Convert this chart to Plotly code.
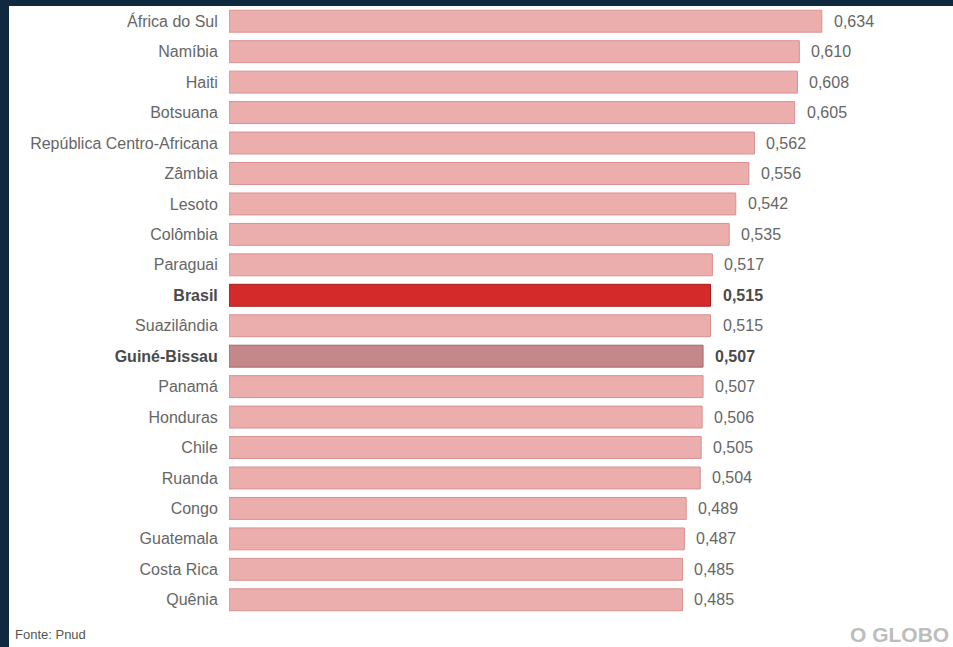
import plotly.graph_objects as go

countries = ["África do Sul", "Namíbia", "Haiti", "Botsuana", "República Centro-Africana",
             "Zâmbia", "Lesoto", "Colômbia", "Paraguai", "Brasil", "Suazilândia",
             "Guiné-Bissau", "Panamá", "Honduras", "Chile", "Ruanda", "Congo",
             "Guatemala", "Costa Rica", "Quênia"]
values = [0.634, 0.610, 0.608, 0.605, 0.562, 0.556, 0.542, 0.535, 0.517, 0.515, 0.515,
          0.507, 0.507, 0.506, 0.505, 0.504, 0.489, 0.487, 0.485, 0.485]
highlight = {"Brasil": ("#d42a2a", "#a81c1c"), "Guiné-Bissau": ("#c4878a", "#a06a6c")}
base_fill, base_line = "#ecadad", "#d99191"

W, H = 953, 647
L, R, T, B = 229, 0, 6, 32
FONT = "Liberation Sans, Arial, sans-serif"

fills = [highlight.get(c, (base_fill, base_line))[0] for c in countries]
lines = [highlight.get(c, (base_fill, base_line))[1] for c in countries]
ticktext = [f"<b><span style='color:#4a4a4a'>{c}</span></b>" if c in highlight else c
            for c in countries]

fig = go.Figure(go.Bar(
    x=values, y=countries, orientation="h",
    marker=dict(color=fills, line=dict(color=lines, width=1)),
    width=0.72, hoverinfo="skip"))

for c, v in zip(countries, values):
    txt = f"{v:.3f}".replace(".", ",")
    if c in highlight:
        txt = f"<b><span style='color:#4a4a4a'>{txt}</span></b>"
    fig.add_annotation(x=v, y=c, xref="x", yref="y", text=txt, showarrow=False,
                       xanchor="left", xshift=10, font=dict(size=16, color="#666666", family=FONT))

pw, ph = W - L - R, H - T - B
def px(x): return (x - L) / pw
def py(y): return (H - B - y) / ph

# dark frame strips
fig.add_shape(type="rect", xref="paper", yref="paper", x0=px(0), x1=px(9), y0=py(H), y1=py(0),
              fillcolor="#0f2940", line_width=0, layer="above")
fig.add_shape(type="rect", xref="paper", yref="paper", x0=px(0), x1=px(W), y0=py(6), y1=py(0),
              fillcolor="#0f2940", line_width=0, layer="above")

fig.add_annotation(xref="paper", yref="paper", x=px(13), y=py(634), text="Fonte: Pnud",
                   showarrow=False, xanchor="left", yanchor="middle",
                   font=dict(size=13, color="#555555", family=FONT))
fig.add_annotation(xref="paper", yref="paper", x=px(951), y=py(634), text="<b>O GLOBO</b>",
                   showarrow=False, xanchor="right", yanchor="middle",
                   font=dict(size=21, color="#bdbdbd", family=FONT))

fig.update_layout(
    width=W, height=H, margin=dict(l=L, r=R, t=T, b=B, autoexpand=False),
    paper_bgcolor="white", plot_bgcolor="white", showlegend=False,
    xaxis=dict(range=[0, pw / 935], visible=False, fixedrange=True),
    yaxis=dict(autorange="reversed", tickmode="array", tickvals=countries, ticktext=ticktext,
               ticks="outside", ticklen=7, tickcolor="rgba(0,0,0,0)", showgrid=False,
               showline=False, zeroline=False,
               tickfont=dict(size=16, color="#666666", family=FONT)),
)
fig.write_html("out.html", config={"displayModeBar": False},
               post_script="document.body.style.margin='0';document.body.style.overflow='hidden';")
